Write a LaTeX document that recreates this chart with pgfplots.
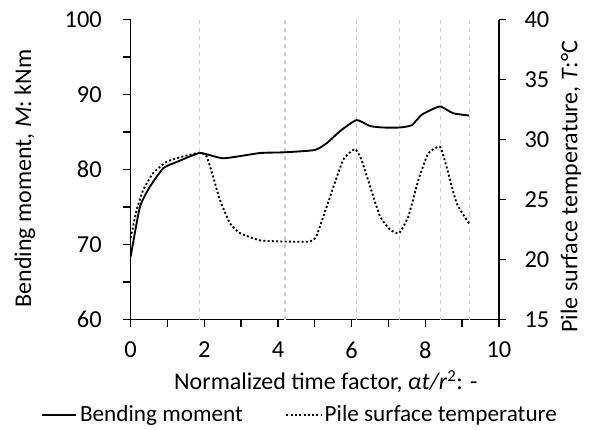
\documentclass[border=0pt]{standalone}
\usepackage{pgfplots}
\pgfplotsset{compat=1.18}
\usepackage{fontspec}
\setmainfont{Carlito}
\begin{document}
\fontsize{18pt}{21pt}\selectfont
\begin{tikzpicture}
\pgfplotsset{
  myax/.style={
    scale only axis, width=276.2pt, height=225pt,
    xmin=0, xmax=10,
    /pgf/number format/assume math mode=true,
    tick label style={font=\fontsize{18.3pt}{21pt}\selectfont},
    label style={font=\fontsize{20.8pt}{24pt}\selectfont},
    tick align=outside,
    major tick length=5.5pt, minor tick length=5.5pt,
    every tick/.style={black, line width=1pt},
    every minor tick/.style={black, line width=1pt},
    axis line style={line width=1pt},
    clip=false,
  }
}
\begin{axis}[myax, name=ax,
  axis x line*=bottom, axis y line*=left,
  ymin=60, ymax=100,
  xtick={0,2,...,10}, minor x tick num=1,
  ytick={60,70,...,100}, minor y tick num=1,
  xticklabel style={yshift=-10pt, inner sep=1pt},
  yticklabel style={xshift=-10pt},
  xlabel={Normalized time factor, \textit{αt/r}\textsuperscript{2}: -},
  ylabel={Bending moment, \textit{M}: kNm},
  every axis x label/.style={at={(axis description cs:0.53,-0.207)}, anchor=center, inner sep=1pt},
  every axis y label/.style={at={(axis description cs:-0.287,0.47)}, anchor=center, rotate=90},
  legend style={at={(axis description cs:0.4605,-0.318)}, anchor=center, draw=none, fill=none,
    legend columns=2, /tikz/every even column/.append style={column sep=30pt},
    font=\fontsize{17.4pt}{20pt}\selectfont},
  legend cell align=left,
  legend image code/.code={\draw[#1] (0cm,0cm) -- (26pt,0cm);},
]
\addplot[gray!40, dashed, line width=0.8pt, forget plot] coordinates {(1.88,60) (1.88,100)};
\addplot[gray!40, dashed, line width=0.8pt, forget plot] coordinates {(4.19,60) (4.19,100)};
\addplot[gray!40, dashed, line width=0.8pt, forget plot] coordinates {(6.14,60) (6.14,100)};
\addplot[gray!40, dashed, line width=0.8pt, forget plot] coordinates {(7.29,60) (7.29,100)};
\addplot[gray!40, dashed, line width=0.8pt, forget plot] coordinates {(8.42,60) (8.42,100)};
\addplot[gray!40, dashed, line width=0.8pt, forget plot] coordinates {(9.19,60) (9.19,100)};
\addplot[black, line width=1.4pt, smooth, tension=0.3] coordinates {
(0,68.4) (0.25,75.0) (0.52,77.7) (0.89,80.2) (1.25,81.0) (1.88,82.2)
(2.52,81.5) (3.51,82.2) (4.19,82.3) (5.0,82.6) (5.32,83.5) (5.73,85.3)
(6.14,86.6) (6.5,85.8) (6.86,85.6) (7.29,85.6) (7.63,85.9) (7.9,87.3)
(8.22,88.1) (8.42,88.4) (8.76,87.5) (9.19,87.2)};
\addlegendentry{Bending moment}
\addlegendimage{black, line width=1.4pt, dash pattern=on 1.5pt off 1.7pt}
\addlegendentry{Pile surface temperature}
\end{axis}
\begin{axis}[myax,
  axis x line=none, axis y line*=right,
  ymin=15, ymax=40,
  ytick={15,20,...,40},
  yticklabel style={xshift=7.5pt},
  ylabel={Pile surface temperature, \textit{T}:°C},
  every axis y label/.style={at={(axis description cs:1.1955,0.443)}, anchor=center, rotate=90},
]
\addplot[black, line width=1.4pt, dash pattern=on 1.5pt off 1.7pt, smooth, tension=0.3] coordinates {
(0,21.8) (0.16,24.1) (0.34,25.8) (0.61,27.2) (0.98,28.15) (1.43,28.6) (1.88,28.9)
(2.06,28.6) (2.24,26.9) (2.42,25.0) (2.7,23.0) (2.97,22.2) (3.51,21.6) (4.19,21.5)
(4.87,21.5) (5.05,22.0) (5.41,25.2) (5.77,28.3) (6.09,29.2) (6.27,28.3) (6.5,26.1)
(6.77,23.6) (7.04,22.5) (7.29,22.2) (7.54,23.6) (7.81,26.6) (8.08,28.85) (8.40,29.4)
(8.58,27.7) (8.85,24.7) (9.19,23.0)};
\end{axis}
\pgfresetboundingbox
\path[use as bounding box] (ax.south west) ++(-98.0pt,-82.1pt) rectangle ++(443.25pt,321.75pt);
\end{tikzpicture}
\end{document}
